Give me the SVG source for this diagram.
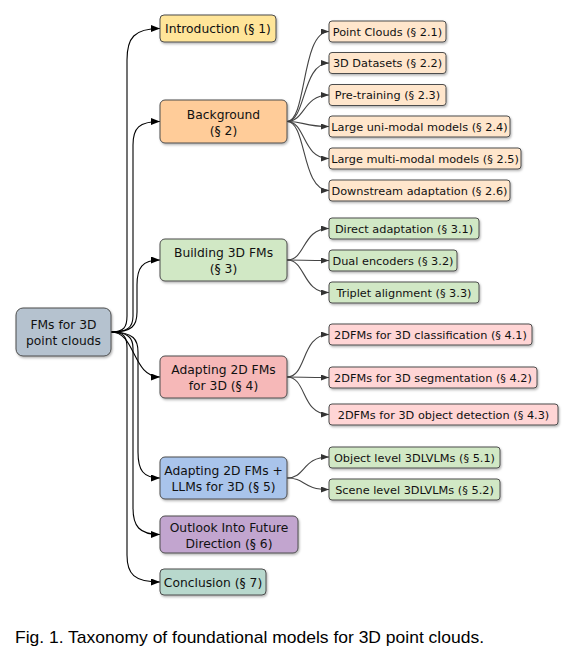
<svg xmlns="http://www.w3.org/2000/svg" width="575" height="660" viewBox="0 0 575 660">
<style>
.n rect{stroke:#4d4d4d;stroke-width:1;filter:url(#sh)}
.n text{font-family:"DejaVu Sans",sans-serif;font-size:12.3px;fill:#111;text-anchor:middle}
.n text.s{font-size:11.3px}
.rootc path{fill:none;stroke:#000;stroke-width:1.1;marker-end:url(#ab)}
.subc path{fill:none;stroke:#444;stroke-width:1.1;marker-end:url(#ag)}
.cap{font-family:"Liberation Sans",Arial,sans-serif;font-size:17px;fill:#000}
.yel{fill:#ffe599}.org{fill:#ffcc99}.peach{fill:#ffe6cc}.grn{fill:#d1e8c5}.red{fill:#f6b8b8}.pink{fill:#ffd5d5}
.blu{fill:#a9c4eb}.pur{fill:#c2a5cf}.tea{fill:#b8d8cd}.gry{fill:#b5c2cf}
</style>
<defs>
<filter id="sh" x="-10%" y="-20%" width="130%" height="150%">
<feDropShadow dx="1" dy="1.5" stdDeviation="0.8" flood-color="#000" flood-opacity="0.3"/>
</filter>
<marker id="ab" markerUnits="userSpaceOnUse" markerWidth="9" markerHeight="7" refX="9" refY="3.5" orient="auto">
<path d="M0,0 L9,3.5 L0,7 z" fill="#000"/>
</marker>
<marker id="ag" markerUnits="userSpaceOnUse" markerWidth="8" markerHeight="6" refX="8" refY="3" orient="auto">
<path d="M0,0 L8,3 L0,6 z" fill="#333"/>
</marker>
</defs>

<g id="connectors">
<g class="rootc">
<path d="M111,332 C124,332 127,327 127,316 L127,60 C127,38 134,28.5 160,28.5"/>
<path d="M111,332 C128,332 133,327 133,316 L133,145 C133,128 139,121.5 160,121.5"/>
<path d="M111,332 C132,332 137,326 137,312 L137,285 C137,268 142,260 160,260"/>
<path d="M111,332 C136,332 132,377 160,377"/>
<path d="M111,332 C134,332 138,340 138,352 L138,452 C138,470 143,478 160,478"/>
<path d="M111,332 C128,332 133,338 133,348 L133,508 C133,526 139,534.5 160,534.5"/>
<path d="M111,332 C124,332 127,337 127,348 L127,555 C127,574 134,582 160,582"/>
</g>
<g class="subc">
<path d="M287,121.5 C307,121.5 301,31.5 329,31.5"/>
<path d="M287,121.5 C306,121.5 302,63 329,63"/>
<path d="M287,121.5 C305,121.5 303,95 329,95"/>
<path d="M287,121.5 C305,121.5 303,126.5 329,126.5"/>
<path d="M287,121.5 C306,121.5 302,158.5 329,158.5"/>
<path d="M287,121.5 C307,121.5 301,190.5 329,190.5"/>
<path d="M287,260 C306,260 302,228.5 329,228.5"/>
<path d="M287,260 C305,260 303,260.5 329,260.5"/>
<path d="M287,260 C306,260 302,292.5 329,292.5"/>
<path d="M287,377 C307,377 301,334.5 329,334.5"/>
<path d="M287,377 C305,377 303,377.5 329,377.5"/>
<path d="M287,377 C307,377 301,414.5 329,414.5"/>
<path d="M287,478 C306,478 302,457 329,457"/>
<path d="M287,478 C306,478 302,489.5 329,489.5"/>
</g>
</g>

<g id="root" class="n"><rect class="gry" x="16" y="308" width="95" height="48" rx="7"/>
<text x="63.5" y="329">FMs for 3D</text><text x="63.5" y="345">point clouds</text></g>

<g id="intro" class="n"><rect class="yel" x="160" y="15" width="116" height="27" rx="4"/>
<text x="218" y="33">Introduction (§ 1)</text></g>

<g id="background" class="n"><rect class="org" x="160" y="100" width="127" height="43" rx="5"/>
<text x="223.5" y="118.5">Background</text><text x="223.5" y="134.5">(§ 2)</text></g>

<g id="pointclouds" class="n"><rect class="peach" x="329" y="21" width="117" height="21" rx="3"/>
<text class="s" x="387.5" y="35.5">Point Clouds (§ 2.1)</text></g>
<g id="datasets" class="n"><rect class="peach" x="329" y="52.5" width="117" height="21" rx="3"/>
<text class="s" x="387.5" y="67">3D Datasets (§ 2.2)</text></g>
<g id="pretraining" class="n"><rect class="peach" x="329" y="84.5" width="117" height="21" rx="3"/>
<text class="s" x="387.5" y="99">Pre-training (§ 2.3)</text></g>
<g id="unimodal" class="n"><rect class="peach" x="329" y="116" width="181" height="21" rx="3"/>
<text class="s" x="419.5" y="130.5">Large uni-modal models (§ 2.4)</text></g>
<g id="multimodal" class="n"><rect class="peach" x="329" y="148" width="192" height="21" rx="3"/>
<text class="s" x="425" y="162.5">Large multi-modal models (§ 2.5)</text></g>
<g id="downstream" class="n"><rect class="peach" x="329" y="180" width="181" height="21" rx="3"/>
<text class="s" x="419.5" y="194.5">Downstream adaptation (§ 2.6)</text></g>

<g id="building" class="n"><rect class="grn" x="160" y="239" width="127" height="42" rx="5"/>
<text x="223.5" y="257">Building 3D FMs</text><text x="223.5" y="273">(§ 3)</text></g>
<g id="direct" class="n"><rect class="grn" x="329" y="218" width="150" height="21" rx="3"/>
<text class="s" x="404" y="232.5">Direct adaptation (§ 3.1)</text></g>
<g id="dual" class="n"><rect class="grn" x="329" y="250" width="128" height="21" rx="3"/>
<text class="s" x="393" y="264.5">Dual encoders (§ 3.2)</text></g>
<g id="triplet" class="n"><rect class="grn" x="329" y="282" width="150" height="21" rx="3"/>
<text class="s" x="404" y="296.5">Triplet alignment (§ 3.3)</text></g>

<g id="adapting" class="n"><rect class="red" x="160" y="356" width="127" height="42" rx="5"/>
<text x="223.5" y="374">Adapting 2D FMs</text><text x="223.5" y="390">for 3D (§ 4)</text></g>
<g id="classification" class="n"><rect class="pink" x="329" y="324" width="203" height="21" rx="3"/>
<text class="s" x="430.5" y="338.5">2DFMs for 3D classification (§ 4.1)</text></g>
<g id="segmentation" class="n"><rect class="pink" x="329" y="367" width="208" height="21" rx="3"/>
<text class="s" x="433" y="381.5">2DFMs for 3D segmentation (§ 4.2)</text></g>
<g id="detection" class="n"><rect class="pink" x="329" y="404" width="229" height="21" rx="3"/>
<text class="s" x="443.5" y="418.5">2DFMs for 3D object detection (§ 4.3)</text></g>

<g id="llms" class="n"><rect class="blu" x="160" y="457" width="127" height="42" rx="5"/>
<text x="223.5" y="475">Adapting 2D FMs +</text><text x="223.5" y="491">LLMs for 3D (§ 5)</text></g>
<g id="objectlevel" class="n"><rect class="grn" x="329" y="447" width="171" height="21" rx="3"/>
<text class="s" x="414.5" y="461.5">Object level 3DLVLMs (§ 5.1)</text></g>
<g id="scenelevel" class="n"><rect class="grn" x="329" y="479" width="171" height="21" rx="3"/>
<text class="s" x="414.5" y="493.5">Scene level 3DLVLMs (§ 5.2)</text></g>

<g id="outlook" class="n"><rect class="pur" x="160" y="516" width="138" height="37" rx="5"/>
<text x="229" y="532">Outlook Into Future</text><text x="229" y="548">Direction (§ 6)</text></g>

<g id="conclusion" class="n"><rect class="tea" x="160" y="569" width="106" height="26" rx="4"/>
<text x="213" y="586.5">Conclusion (§ 7)</text></g>

<text class="cap" x="15" y="643" textLength="469" lengthAdjust="spacingAndGlyphs">Fig. 1. Taxonomy of foundational models for 3D point clouds.</text>
</svg>
